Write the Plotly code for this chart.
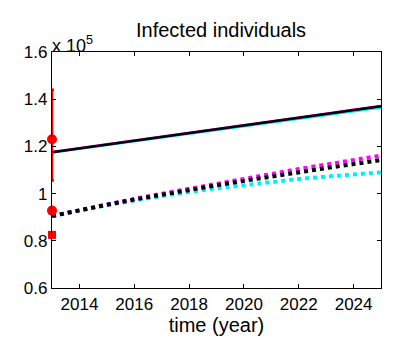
import plotly.graph_objects as go

# values in units of 1e5 individuals
years = [2013, 2014, 2015, 2016, 2017, 2018, 2019, 2020, 2021, 2022, 2023, 2024, 2025]

solid_black = [1.175, 1.191, 1.207, 1.224, 1.240, 1.256, 1.272, 1.289, 1.305, 1.321, 1.337, 1.354, 1.370]
solid_magenta = [1.176, 1.192, 1.208, 1.225, 1.241, 1.257, 1.273, 1.290, 1.306, 1.322, 1.338, 1.355, 1.371]
solid_cyan = [1.174, 1.190, 1.206, 1.222, 1.238, 1.254, 1.270, 1.286, 1.302, 1.318, 1.334, 1.350, 1.365]

dot_black = [0.905, 0.930, 0.953, 0.975, 0.996, 1.016, 1.035, 1.054, 1.073, 1.091, 1.108, 1.125, 1.142]
dot_magenta = [0.905, 0.930, 0.954, 0.977, 0.999, 1.021, 1.042, 1.063, 1.083, 1.104, 1.123, 1.142, 1.161]
dot_cyan = [0.905, 0.929, 0.951, 0.971, 0.990, 1.007, 1.022, 1.036, 1.050, 1.062, 1.072, 1.082, 1.090]

# observed data at 2013
obs_year = [2013]
obs_mean = [1.23]
obs_upper = [1.44]
obs_lower = [1.055]
obs_circle2 = [0.928]
obs_square = [0.825]

fig = go.Figure()

dot_dash = "4px,4px"
for y, c in [(solid_cyan, "#00e5ee"), (solid_magenta, "#ff00ff"), (solid_black, "black")]:
    fig.add_trace(go.Scatter(x=years, y=y, mode="lines", line=dict(color=c, width=2.5)))
for y, c in [(dot_cyan, "#00eeff"), (dot_magenta, "#ff00ff"), (dot_black, "black")]:
    fig.add_trace(go.Scatter(x=years, y=y, mode="lines", line=dict(color=c, width=4, dash=dot_dash)))

fig.add_trace(go.Scatter(
    x=obs_year, y=obs_mean, mode="markers", cliponaxis=False,
    marker=dict(color="red", size=10, symbol="circle"),
    error_y=dict(type="data", symmetric=False,
                 array=[u - m for u, m in zip(obs_upper, obs_mean)],
                 arrayminus=[m - l for m, l in zip(obs_mean, obs_lower)],
                 color="red", thickness=2.5, width=2),
))
fig.add_trace(go.Scatter(x=obs_year, y=obs_circle2, mode="markers", cliponaxis=False,
                         marker=dict(color="red", size=10, symbol="circle")))
fig.add_trace(go.Scatter(x=obs_year, y=obs_square, mode="markers", cliponaxis=False,
                         marker=dict(color="red", size=8, symbol="square")))

axis_style = dict(showline=True, linecolor="black", linewidth=1.2, mirror="ticks",
                  ticks="inside", ticklen=4, tickcolor="black", showgrid=False, zeroline=False,
                  tickfont=dict(size=17, color="black"))

fig.update_xaxes(range=[2013, 2025], tickvals=[2014, 2016, 2018, 2020, 2022, 2024],
                 title=dict(text="time (year)", font=dict(size=20, color="black"), standoff=0),
                 **axis_style)
fig.update_yaxes(range=[0.6, 1.6], tickvals=[0.6, 0.8, 1.0, 1.2, 1.4, 1.6],
                 ticktext=["0.6", "0.8", "1", "1.2", "1.4", "1.6"], **axis_style)

fig.add_annotation(x=0, y=1, xref="paper", yref="paper", xanchor="left", yanchor="bottom",
                   text="x 10<sup>5</sup>", showarrow=False, font=dict(size=18, color="black"),
                   xshift=-2, yshift=-6)

# the page body adds an 8px offset, so the figure is 8px smaller
fig.update_layout(
    title=dict(text="Infected individuals", x=0.53, xanchor="center", y=0.935, yanchor="middle",
               font=dict(size=20, color="black")),
    font=dict(family="Liberation Sans, Arial, sans-serif"),
    showlegend=False,
    width=402, height=335,
    margin=dict(l=44, r=29, t=44, b=55),
    plot_bgcolor="white", paper_bgcolor="white",
)

fig.write_html("out.html")
